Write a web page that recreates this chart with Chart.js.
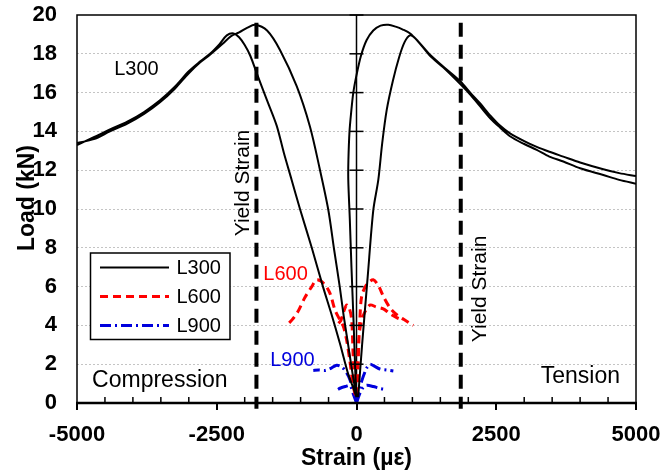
<!DOCTYPE html>
<html>
<head>
<meta charset="utf-8">
<script src="https://cdn.jsdelivr.net/npm/chart.js@4/dist/chart.umd.min.js"></script>
<style>
  html, body { margin: 0; padding: 0; background: #fff; }
  canvas { display: block; background: #fff; }
</style>
</head>
<body>
<canvas id="chart" width="665" height="476"></canvas>
<script>
// ============================
// DATA  [strain (µε), load (kN)]
// ============================
const strainTicks = [-5000, -2500, 0, 2500, 5000];
const loadTicks = [0, 2, 4, 6, 8, 10, 12, 14, 16, 18, 20];
const yieldStrains = [-1790, 1865];

// L300 - four gauge branches
const l300CompA = [[0,0.3],[-60,0.8],[-150,1.5],[-290,3],[-450,4.6],[-600,6],[-800,8],[-1011,10],[-1160,11.5],[-1300,12.9],[-1428,14.3],[-1600,15.6],[-1785,17],[-1900,17.9],[-2000,18.45],[-2100,18.85],[-2200,19.05],[-2320,18.95],[-2450,18.5],[-2621,18.0],[-2800,17.6],[-3000,17.1],[-3250,16.3],[-3515,15.6],[-3800,15.0],[-4100,14.5],[-4410,14.1],[-4700,13.7],[-5000,13.3]];
const l300CompB = [[0,0.3],[-70,1.5],[-149,3],[-230,4.5],[-300,6],[-400,7.9],[-504,9.95],[-660,12.1],[-832,14.24],[-1070,16.33],[-1369,18.2],[-1600,19.2],[-1816,19.5],[-1950,19.35],[-2100,19.1],[-2250,18.9],[-2400,18.5],[-2621,17.95],[-2800,17.55],[-3000,17.0],[-3250,16.2],[-3515,15.5],[-3800,14.9],[-4100,14.4],[-4410,14.0],[-4700,13.6],[-5000,13.4]];
const l300TensC = [[0,0.3],[-20,1.5],[-50,4],[-90,7],[-120,9.5],[-147,11.5],[-145,12.5],[-125,14],[-95,15],[-57,16],[0,16.9],[80,17.9],[180,18.7],[300,19.2],[430,19.45],[570,19.5],[700,19.4],[830,19.25],[960,19.05],[1100,18.65],[1315,17.95],[1550,17.35],[1852,16.6],[2050,15.95],[2209,15.45],[2400,14.8],[2567,14.3],[2746,13.9],[3000,13.5],[3224,13.2],[3450,12.95],[3700,12.7],[4000,12.4],[4415,12.05],[4700,11.85],[5000,11.7]];
const l300TensD = [[30,0.3],[100,3],[200,6.5],[301,9.95],[390,11.5],[460,13.4],[540,15.1],[650,16.6],[760,17.8],[860,18.6],[957,18.95],[1050,18.8],[1315,17.9],[1550,17.3],[1852,16.45],[2050,15.85],[2209,15.3],[2400,14.65],[2567,14.2],[2746,13.75],[3000,13.35],[3224,13.05],[3450,12.7],[3700,12.45],[4000,12.1],[4415,11.75],[4700,11.5],[5000,11.3]];

// L600
const l600CompA = [[-20,0.4],[-57,0.85],[-120,2.2],[-180,3.3],[-236,3.95],[-300,4.3],[-385,4.8],[-474,5.65],[-580,6.15],[-712,6.35],[-800,6.0],[-921,5.45],[-1050,4.7],[-1150,4.3],[-1249,4.0]];
const l600CompB = [[-10,0.4],[-27,0.84],[-60,2.5],[-86,4.28],[-130,4.9],[-176,5.05],[-230,4.7],[-280,4.25],[-326,4.1]];
const l600TensC = [[10,0.4],[25,1.5],[40,3],[60,4.3],[93,5.5],[180,6.1],[301,6.35],[400,6.0],[480,5.5],[600,4.9],[719,4.55],[850,4.3],[1016,4.0]];
const l600TensD = [[5,0.4],[20,2],[50,3.6],[120,4.5],[241,5.05],[350,4.95],[480,4.85],[600,4.6],[720,4.4],[800,4.3]];

// L900
const l900CompA = [[0,0],[-30,0.4],[-57,0.6],[-116,1.19],[-175,1.55],[-260,1.85],[-354,1.95],[-450,1.8],[-560,1.68],[-680,1.7],[-773,1.68]];
const l900CompB = [[0,0],[-50,0.4],[-116,0.9],[-200,0.85],[-295,0.76],[-330,0.7]];
const l900TensC = [[0,0],[40,0.5],[90,1.1],[182,1.8],[241,1.99],[320,1.9],[420,1.75],[540,1.7],[659,1.65]];
const l900TensD = [[0,0],[60,0.5],[120,0.8],[182,0.91],[300,0.85],[420,0.75],[540,0.7]];

// ============================
// UTILS
// ============================
function joinBranches(branches){
  const out = [];
  branches.forEach((b,i)=>{
    if(i > 0) out.push({x:0, y:null});
    b.forEach(p=>out.push({x:p[0], y:p[1]}));
  });
  return out;
}

const FONT = "'Liberation Sans', Arial, sans-serif";
const RED = "#ff0000";
const BLUE = "#0000dd";

const series = [
  {label:"L300", data: joinBranches([l300CompA,l300CompB,l300TensC,l300TensD]), color:"#000", dash:[], width:2},
  {label:"L600", data: joinBranches([l600CompA,l600CompB,l600TensC,l600TensD]), color:RED, dash:[8,5], width:3},
  {label:"L900", data: joinBranches([l900CompA,l900CompB,l900TensC,l900TensD]), color:BLUE, dash:[11,4,2,4], width:3}
];

// ============================
// OVERLAY (axis at 0, frame, notes, legend, titles)
// ============================
const overlay = {
  id: "overlay",
  afterDatasetsDraw(chart){
    const {ctx, chartArea:a, scales:{x, y}} = chart;
    const seg = (x1,y1,x2,y2)=>{ ctx.beginPath(); ctx.moveTo(x1,y1); ctx.lineTo(x2,y2); ctx.stroke(); };
    ctx.save();
    ctx.strokeStyle = "#000";
    ctx.setLineDash([]);

    // frame
    ctx.lineWidth = 1.5;
    ctx.strokeRect(a.left, a.top, a.right-a.left, a.bottom-a.top);
    ctx.lineWidth = 2.5;
    seg(a.left-1, a.bottom, a.right+1, a.bottom);

    // ticks on the zero-strain axis
    const x0 = x.getPixelForValue(0);
    ctx.lineWidth = 1.5;
    loadTicks.slice(1).forEach(v=>{
      const py = y.getPixelForValue(v);
      seg(x0-7, py, x0+7, py);
    });

    // minor strain ticks
    for(let s = strainTicks[0]+500; s < strainTicks[strainTicks.length-1]; s += 500){
      if(s % 2500 === 0) continue;
      const px = x.getPixelForValue(s);
      seg(px, a.bottom, px, a.bottom-6);
    }

    // notes
    const note = (txt, sx, ly, color, size, align, rot)=>{
      ctx.save();
      ctx.translate(x.getPixelForValue(sx), y.getPixelForValue(ly));
      if(rot) ctx.rotate(rot);
      ctx.fillStyle = color;
      ctx.font = size + "px " + FONT;
      ctx.textAlign = align;
      ctx.textBaseline = "middle";
      ctx.fillText(txt, 0, 0);
      ctx.restore();
    };
    note("L300", -3936, 17.2, "#000", 20, "center");
    note("L600", -1270, 6.6, RED, 20, "center");
    note("L900", -1145, 2.19, BLUE, 20, "center");
    note("Compression", -4730, 1.15, "#000", 23, "left");
    note("Tension", 4714, 1.34, "#000", 23, "right");
    note("Yield Strain", -2030, 11.34, "#000", 21, "center", -Math.PI/2);
    note("Yield Strain", 2209, 5.88, "#000", 21, "center", -Math.PI/2);

    // legend
    const bx = a.left + 13.5, by = a.top + 238, bw = 139.5, bh = 86.5;
    ctx.fillStyle = "#fff";
    ctx.fillRect(bx, by, bw, bh);
    ctx.lineWidth = 1.5;
    ctx.strokeStyle = "#000";
    ctx.strokeRect(bx, by, bw, bh);
    series.forEach((s,i)=>{
      const ry = by + 14.5 + i*29;
      ctx.strokeStyle = s.color;
      ctx.lineWidth = s.width;
      ctx.setLineDash(s.dash);
      seg(bx+9.5, ry, bx+78.5, ry);
      ctx.setLineDash([]);
      ctx.fillStyle = "#000";
      ctx.font = "20px " + FONT;
      ctx.textAlign = "left";
      ctx.textBaseline = "middle";
      ctx.fillText(s.label, bx+86, ry+1);
    });

    // axis titles
    ctx.fillStyle = "#000";
    ctx.font = "bold 23px " + FONT;
    ctx.textAlign = "center";
    ctx.textBaseline = "middle";
    ctx.fillText("Strain (µε)", (a.left+a.right)/2, a.bottom + 56);
    ctx.save();
    ctx.translate(28, a.top + 183);
    ctx.rotate(-Math.PI/2);
    ctx.fillText("Load (kN)", 0, 0);
    ctx.restore();

    ctx.restore();
  }
};

// ============================
// CHART
// ============================
const datasets = series.map(s=>({
  label: s.label,
  data: s.data,
  borderColor: s.color,
  borderWidth: s.width,
  borderDash: s.dash,
  pointRadius: 0,
  tension: 0.3,
  spanGaps: false,
  fill: false
}));

yieldStrains.forEach(v=>{
  datasets.push({
    label: "Yield",
    data: [{x:v, y:19.6}, {x:v, y:-0.3}],
    borderColor: "#000",
    borderWidth: 4,
    borderDash: [14, 8],
    pointRadius: 0,
    tension: 0,
    clip: false
  });
});

datasets.push({
  label: "axis",
  data: [{x:0, y:0}, {x:0, y:20}],
  borderColor: "#000",
  borderWidth: 1.5,
  pointRadius: 0,
  tension: 0
});

new Chart(document.getElementById("chart"), {
  type: "line",
  data: { datasets: datasets },
  options: {
    responsive: false,
    animation: false,
    devicePixelRatio: 1,
    layout: { padding: 0 },
    plugins: { legend: { display: false }, tooltip: { enabled: false } },
    scales: {
      x: {
        type: "linear",
        min: -5000, max: 5000,
        // fixed gutter; right padding pins the plot's right edge at 636px
        afterFit: s => { s.height = 73; s.paddingLeft = 0; s.paddingRight = 29; },
        afterBuildTicks: s => { s.ticks = strainTicks.map(v=>({value:v})); },
        ticks: { color: "#000", font: { family: FONT, size: 22, weight: "bold" }, padding: 12, maxRotation: 0, callback: v => String(v) },
        grid: { drawOnChartArea: false, drawTicks: true, tickLength: 7, color: "#000", lineWidth: 2 },
        border: { display: false }
      },
      y: {
        type: "linear",
        min: 0, max: 20,
        // fixed gutter; top padding pins the plot top at 15px
        afterFit: s => { s.width = 77; s.paddingTop = 15; s.paddingBottom = 0; },
        afterBuildTicks: s => { s.ticks = loadTicks.map(v=>({value:v})); },
        ticks: { color: "#000", font: { family: FONT, size: 22, weight: "bold" }, padding: 20, callback: v => String(v) },
        grid: {
          drawTicks: false,
          lineWidth: 1,
          color: c => (c.tick && (c.tick.value === 0 || c.tick.value === 20)) ? "rgba(0,0,0,0)" : "#c4c4c4"
        },
        border: { display: false, dash: [2, 2] }
      }
    }
  },
  plugins: [overlay]
});
</script>
</body>
</html>
